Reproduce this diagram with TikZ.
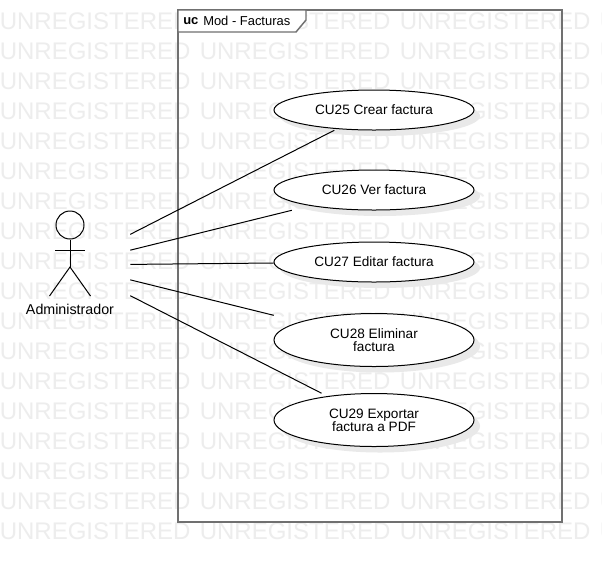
\documentclass[tikz,border=0pt]{standalone}
\usepackage{fontspec}
\setmainfont{Liberation Sans}
\usetikzlibrary{shapes.geometric}
\definecolor{wm}{HTML}{EDEDED}
\definecolor{shade}{HTML}{E9E9E9}
\definecolor{framec}{HTML}{707070}
\tikzset{
  x=0.75pt,y=-0.75pt,
  wmtext/.style={anchor=west,inner sep=0pt,text=wm,font=\fontsize{18}{20}\selectfont},
  usecase/.style={ellipse,draw=black,fill=white,line width=0.75pt,inner sep=0pt,minimum width=150pt,align=center,font=\fontsize{10.2}{10}\selectfont},
  ushadow/.style={ellipse,fill=shade,inner sep=0pt,minimum width=150pt},
  ubox/.style={rectangle,inner sep=0pt,minimum width=150pt},
  assoc/.style={draw=black,line width=0.75pt},
  actorline/.style={draw=black,line width=0.75pt},
  lbl/.style={inner sep=0pt,font=\fontsize{9.7}{11}\selectfont}
}
\begin{document}
\begin{tikzpicture}
\useasboundingbox (0,0) rectangle (602,562);
\fill[white] (0,0) rectangle (602,562);
% watermark
\begin{scope}
\clip (0,0) rectangle (602,562);
\foreach \r in {0,...,17}{
  \foreach \c in {0,1,2,3}{
    \node[wmtext] (wm\r x\c) at ({-0.5+200*\c},{21.5+30*\r}) {UNREGISTERED};
  }
}
\end{scope}
% frame
\draw[framec,line width=1.1pt] (178,10) rectangle (562,522);
\filldraw[fill=white,draw=framec,line width=1.1pt] (178,10) -- (306,10) -- (306,20) -- (296,32) -- (178,32) -- cycle;
\node[lbl,anchor=west,font=\fontsize{9.7}{11}\selectfont\bfseries] (uc) at (183,21) {uc};
\node[lbl,anchor=west] (title) at (203,21) {Mod - Facturas};
% shadows
\foreach \n/\y/\h in {a/110/40,b/190/40,c/262/40,d/340/53,e/420/53}{
  \node[ushadow,minimum height=\h*0.75pt] (s\n) at (380,\y+6) {};
}
% use cases
\node[usecase,minimum height=30pt] (u25) at (374,110) {CU25 Crear factura};
\node[usecase,minimum height=30pt] (u26) at (374,190) {CU26 Ver factura};
\node[usecase,minimum height=30pt] (u27) at (374,262) {CU27 Editar factura};
\node[usecase,minimum height=39.75pt] (u28) at (374,340) {CU28 Eliminar\\factura};
\node[usecase,minimum height=39.75pt] (u29) at (374,420) {CU29 Exportar\\factura a PDF};
% invisible boxes: connectors stop at each use case's bounding box
\node[ubox,minimum height=30pt] (b25) at (u25) {};
\node[ubox,minimum height=30pt] (b26) at (u26) {};
\node[ubox,minimum height=30pt] (b27) at (u27) {};
\node[ubox,minimum height=39.75pt] (b28) at (u28) {};
\node[ubox,minimum height=39.75pt] (b29) at (u29) {};
% actor
\node[inner sep=0pt,minimum width=90pt,minimum height=90pt] (actor) at (70,265) {};
\node[circle,actorline,inner sep=0pt,minimum size=21pt] (head) at (70,225) {};
\coordinate (hip) at (70,267);
\coordinate (armL) at (55,250);
\coordinate (armR) at (85,250);
\coordinate (footL) at (49.5,296);
\coordinate (footR) at (90.5,296);
\draw[actorline] (head.south) -- (hip);
\draw[actorline] (armL) -- (armR);
\draw[actorline] (footL) -- (hip) -- (footR);
\node[lbl,font=\fontsize{10.7}{11}\selectfont] (alabel) at (70,309) {Administrador};
% associations
\foreach \u in {b25,b26,b27,b28,b29}{
  \draw[assoc] (actor) -- (\u);
}
\end{tikzpicture}
\end{document}
